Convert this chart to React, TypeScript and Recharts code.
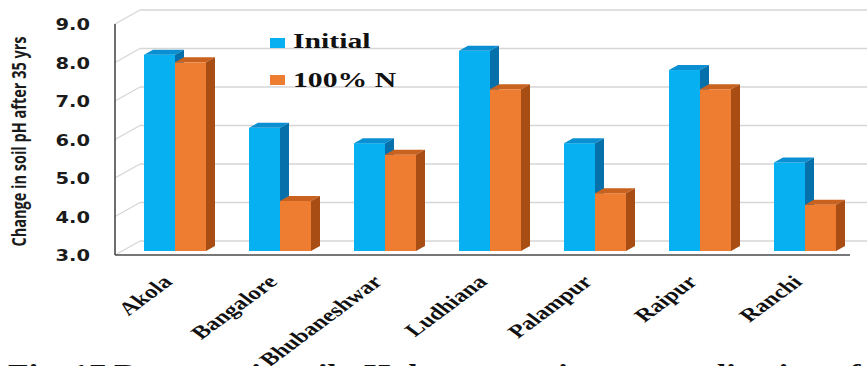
import React from 'react';
import { BarChart, Bar, XAxis, YAxis, CartesianGrid, Legend } from 'recharts';

// Soil pH at the long-term fertilizer experiment sites
const cities = ['Akola', 'Bangalore', 'Bhubaneshwar', 'Ludhiana', 'Palampur', 'Raipur', 'Ranchi'];
const initialPH = [8.1, 6.2, 5.8, 8.2, 5.8, 7.7, 5.3];
const nitrogenPH = [7.9, 4.3, 5.5, 7.2, 4.5, 7.2, 4.2];
const phTicks = [3, 4, 5, 6, 7, 8, 9];
const seriesNames = ['Initial', '100% N'];
const axisTitle = 'Change in soil pH after 35 yrs';
const caption = 'Fig. 17 Decrease in soil pH due to continuous application of N';

const data = cities.map((city, i) => ({ city, initial: initialPH[i], n100: nitrogenPH[i] }));

const BLUE = { front: '#07B0F0', top: '#0A90D2', side: '#0670AA' };
const ORANGE = { front: '#EE7D31', top: '#C9621F', side: '#A84D13' };

// pseudo-3D geometry: row of columns set back from the front plane,
// each column with its own depth, and the back wall behind everything
const ROW_DX = 7;
const ROW_DY = 4;
const COL_DX = 9;
const COL_DY = 5;
const WALL_DX = 25;
const WALL_DY = 14;

const GRID_COLOR = '#d6d6d6';
const AXIS_COLOR = '#4a4a4a';

type Face = { front: string; top: string; side: string };

const makeColumn = (c: Face) => (props: any) => {
  const { x, y, width, height } = props;
  if (width == null || height == null || isNaN(y)) return <g />;
  const X = x + ROW_DX;
  const Y = y - ROW_DY;
  const topFace = `${X},${Y} ${X + COL_DX},${Y - COL_DY} ${X + width + COL_DX},${Y - COL_DY} ${X + width},${Y}`;
  const sideFace = `${X + width},${Y} ${X + width + COL_DX},${Y - COL_DY} ${X + width + COL_DX},${Y + height - COL_DY} ${X + width},${Y + height}`;
  return (
    <g>
      <rect x={X} y={Y} width={width} height={height} fill={c.front} />
      <polygon points={topFace} fill={c.top} />
      <polygon points={sideFace} fill={c.side} />
    </g>
  );
};

const WallLine = (props: any) => {
  const { x1, y1, x2 } = props;
  return (
    <g key={`wall-${y1}`}>
      <line x1={x1} y1={y1} x2={x1 + WALL_DX} y2={y1 - WALL_DY} stroke={GRID_COLOR} strokeWidth={1.3} />
      <line x1={x1 + WALL_DX} y1={y1 - WALL_DY} x2={x2 + WALL_DX + 20} y2={y1 - WALL_DY} stroke={GRID_COLOR} strokeWidth={1.3} />
    </g>
  );
};

const PhTick = (props: any) => {
  const { x, y, payload } = props;
  return (
    <text
      transform={`translate(${x}, ${y + 1}) scale(1.3, 1)`}
      textAnchor="end"
      dy="0.36em"
      fontFamily="DejaVu Sans"
      fontWeight="bold"
      fontSize={15}
      fill="#1b1b1b"
    >
      {Number(payload.value).toFixed(1)}
    </text>
  );
};

const CityTick = (props: any) => {
  const { x, y, payload } = props;
  return (
    <text
      transform={`translate(${x + 6}, ${y + 28}) scale(1.35, 1) rotate(-45)`}
      textAnchor="end"
      fontFamily="Liberation Serif"
      fontWeight="bold"
      fontSize={18.5}
      fill="#111"
    >
      {payload.value}
    </text>
  );
};

const AxisTitle = (props: any) => {
  const vb = props.viewBox || { x: 15, y: 24, width: 100, height: 231 };
  const cx = vb.x + 11;
  const cy = vb.y + vb.height / 2 + 2;
  return (
    <text
      transform={`translate(${cx}, ${cy}) scale(1.35, 1) rotate(-90)`}
      textAnchor="middle"
      fontFamily="Open Sans"
      fontWeight={700}
      fontSize={14.5}
      fill="#1b1b1b"
    >
      {axisTitle}
    </text>
  );
};

const LEGEND_ROWS = [
  { sq: 38, base: 48 },
  { sq: 75, base: 87 },
];

const Overlay = (props: any) => {
  const payload = props.payload || [];
  const items = seriesNames.map((name) => payload.find((p: any) => p.value === name)).filter(Boolean);
  return (
    <svg width={867} height={366} style={{ overflow: 'visible', display: 'block' }}>
      {items.map((p: any, i: number) => (
        <g key={p.value}>
          <rect x={270} y={LEGEND_ROWS[i].sq} width={15} height={10} fill={p.color} />
          <text
            transform={`translate(293, ${LEGEND_ROWS[i].base}) scale(1.35, 1)`}
            fontFamily="Liberation Serif"
            fontWeight="bold"
            fontSize={22}
            fill="#111"
          >
            {p.value}
          </text>
        </g>
      ))}
    </svg>
  );
};

export default function App() {
  return (
    <div style={{ position: 'absolute', left: 0, top: 0, width: 867, height: 366, background: '#fff', overflow: 'hidden' }}>
      {/* figure caption sits beneath the chart so the tilted labels stay on top */}
      <svg width={867} height={366} style={{ position: 'absolute', left: 0, top: 0 }}>
        <text
          transform="translate(8, 382) scale(1.3, 1)"
          fontFamily="Liberation Serif"
          fontWeight="bold"
          fontSize={26}
          fill="#111"
        >
          {caption}
        </text>
      </svg>
      <BarChart
        width={867}
        height={366}
        data={data}
        margin={{ top: 24, right: 17, bottom: 51, left: 15 }}
        barGap={0}
        barSize={31}
      >
        <CartesianGrid horizontal={WallLine} vertical={false} />
        <XAxis
          dataKey="city"
          height={60}
          tickSize={0}
          tickMargin={0}
          interval={0}
          tick={<CityTick />}
          axisLine={{ stroke: AXIS_COLOR, strokeWidth: 1.6 }}
          tickLine={false}
        />
        <YAxis
          width={100}
          domain={[3, 9]}
          ticks={phTicks}
          tickSize={0}
          tickMargin={25}
          tick={<PhTick />}
          tickLine={false}
          axisLine={{ stroke: AXIS_COLOR, strokeWidth: 1.6 }}
          allowDataOverflow
          label={<AxisTitle />}
        />
        <Legend
          layout="horizontal"
          verticalAlign="middle"
          align="center"
          content={<Overlay />}
          wrapperStyle={{ position: 'absolute', left: 0, top: 0, width: 867, height: 366, pointerEvents: 'none' }}
        />
        <Bar dataKey="initial" name={seriesNames[0]} fill={BLUE.front} shape={makeColumn(BLUE)} isAnimationActive={false} />
        <Bar dataKey="n100" name={seriesNames[1]} fill={ORANGE.front} shape={makeColumn(ORANGE)} isAnimationActive={false} />
      </BarChart>
    </div>
  );
}
